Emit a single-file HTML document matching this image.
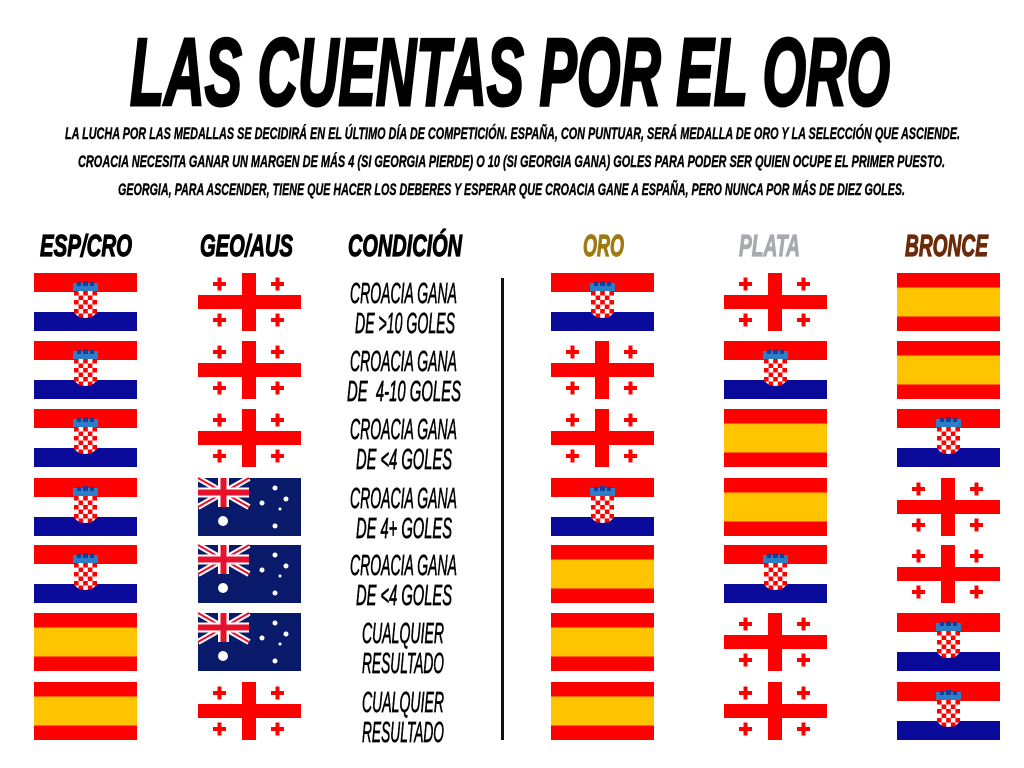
<!DOCTYPE html>
<html><head><meta charset="utf-8"><style>
html,body{margin:0;padding:0;background:#fff;width:1024px;height:768px;overflow:hidden}
text{font-family:"Liberation Sans",sans-serif;font-style:italic}
.rows text{stroke:#000;stroke-width:0.7px}
</style></head><body>
<svg width="1024" height="768" viewBox="0 0 1024 768" xmlns="http://www.w3.org/2000/svg">
<defs>
<g id="cro">
<rect x="0" y="0" width="103" height="58" fill="#fff"/>
<rect x="0" y="0" width="103" height="19" fill="#ff0000"/>
<rect x="0" y="39" width="103" height="19" fill="#0a0a9a"/>
<rect x="39" y="10" width="25" height="8" fill="#2a7fc8"/>
<rect x="43" y="9" width="4" height="4" fill="#1a3c9a"/><rect x="49" y="8" width="5" height="5" fill="#1a3c9a"/><rect x="56" y="9" width="4" height="4" fill="#1a3c9a"/>
<path d="M40 18 H63 V36 Q63 44 51.5 45 Q40 44 40 36 Z" fill="#fff"/>
<g fill="#ff0000">
<rect x="40" y="18" width="4.6" height="4.5"/><rect x="49.2" y="18" width="4.6" height="4.5"/><rect x="58.4" y="18" width="4.6" height="4.5"/>
<rect x="44.6" y="22.5" width="4.6" height="4.5"/><rect x="53.8" y="22.5" width="4.6" height="4.5"/>
<rect x="40" y="27" width="4.6" height="4.5"/><rect x="49.2" y="27" width="4.6" height="4.5"/><rect x="58.4" y="27" width="4.6" height="4.5"/>
<rect x="44.6" y="31.5" width="4.6" height="4.5"/><rect x="53.8" y="31.5" width="4.6" height="4.5"/>
<rect x="40" y="36" width="4.6" height="4.5"/><rect x="49.2" y="36" width="4.6" height="4.5"/><rect x="58.4" y="36" width="4.6" height="4.5"/>
<rect x="44.6" y="40.5" width="4.6" height="4"/><rect x="53.8" y="40.5" width="4.6" height="4"/>
</g>
</g>
<g id="esp">
<rect x="0" y="0" width="103" height="58" fill="#ff0000"/>
<rect x="0" y="14.5" width="103" height="29" fill="#ffc400"/>
</g>
<g id="geo">
<rect x="0" y="0" width="103" height="58" fill="#fff"/>
<rect x="44" y="0" width="14" height="58" fill="#ff0000"/>
<rect x="0" y="22" width="103" height="14" fill="#ff0000"/>
<g fill="#ff0000">
<rect x="15" y="9" width="13" height="4"/><rect x="19.5" y="4.5" width="4" height="13"/>
<rect x="73" y="9" width="13" height="4"/><rect x="77.5" y="4.5" width="4" height="13"/>
<rect x="15" y="45" width="13" height="4"/><rect x="19.5" y="40.5" width="4" height="13"/>
<rect x="73" y="45" width="13" height="4"/><rect x="77.5" y="40.5" width="4" height="13"/>
</g>
</g>
<g id="aus">
<rect x="0" y="0" width="103" height="58" fill="#0a1a6a"/>
<path d="M0 0 L51 29 M51 0 L0 29" stroke="#fff" stroke-width="6"/>
<path d="M0 0 L51 29 M51 0 L0 29" stroke="#e8112d" stroke-width="2"/>
<rect x="20" y="0" width="11" height="29" fill="#fff"/>
<rect x="0" y="9.5" width="51" height="10" fill="#fff"/>
<rect x="22.5" y="0" width="6" height="29" fill="#e8112d"/>
<rect x="0" y="11.5" width="51" height="6" fill="#e8112d"/>
<g fill="#fff">
<circle cx="25" cy="43" r="5"/><circle cx="77" cy="10" r="2.5"/><circle cx="64" cy="25" r="2.5"/><circle cx="88" cy="21" r="2.5"/><circle cx="82" cy="31" r="1.5"/><circle cx="77" cy="48" r="2.5"/>
</g>
</g>
</defs>

<text x="130" y="105" textLength="760" lengthAdjust="spacingAndGlyphs" font-size="96" font-weight="bold" fill="#000" stroke="#000" stroke-width="3">LAS CUENTAS POR EL ORO</text>
<g font-size="17" font-weight="bold" fill="#000" stroke="#000" stroke-width="0.4">
<text x="65" y="139" textLength="895" lengthAdjust="spacingAndGlyphs">LA LUCHA POR LAS MEDALLAS SE DECIDIRÁ EN EL ÚLTIMO DÍA DE COMPETICIÓN. ESPAÑA, CON PUNTUAR, SERÁ MEDALLA DE ORO Y LA SELECCIÓN QUE ASCIENDE.</text>
<text x="78" y="167" textLength="867" lengthAdjust="spacingAndGlyphs">CROACIA NECESITA GANAR UN MARGEN DE MÁS 4 (SI GEORGIA PIERDE) O 10 (SI GEORGIA GANA) GOLES PARA PODER SER QUIEN OCUPE EL PRIMER PUESTO.</text>
<text x="118" y="195" textLength="787" lengthAdjust="spacingAndGlyphs">GEORGIA, PARA ASCENDER, TIENE QUE HACER LOS DEBERES Y ESPERAR QUE CROACIA GANE A ESPAÑA, PERO NUNCA POR MÁS DE DIEZ GOLES.</text>
</g>
<g font-size="31" font-weight="bold" stroke-width="1.2">
<text x="40" y="256" textLength="92" lengthAdjust="spacingAndGlyphs" fill="#000" stroke="#000">ESP/CRO</text>
<text x="200" y="256" textLength="93" lengthAdjust="spacingAndGlyphs" fill="#000" stroke="#000">GEO/AUS</text>
<text x="348" y="256" textLength="114" lengthAdjust="spacingAndGlyphs" fill="#000" stroke="#000">CONDICIÓN</text>
<text x="583" y="256" textLength="41" lengthAdjust="spacingAndGlyphs" fill="#a07a10" stroke="#a07a10">ORO</text>
<text x="739" y="256" textLength="61" lengthAdjust="spacingAndGlyphs" fill="#a8aab0" stroke="#a8aab0">PLATA</text>
<text x="905" y="256" textLength="83" lengthAdjust="spacingAndGlyphs" fill="#6b2a0a" stroke="#6b2a0a">BRONCE</text>
</g>
<rect x="501" y="278" width="3" height="462" fill="#111"/>

<g class="rows" font-size="29" fill="#000">
<use href="#cro" x="34" y="273"/><use href="#geo" x="198" y="273"/>
<text x="350" y="303" textLength="107" lengthAdjust="spacingAndGlyphs">CROACIA GANA</text>
<text x="355" y="333" textLength="100" lengthAdjust="spacingAndGlyphs">DE &gt;10 GOLES</text>
<use href="#cro" x="551" y="273"/><use href="#geo" x="724" y="273"/><use href="#esp" x="897" y="273"/>

<use href="#cro" x="34" y="341"/><use href="#geo" x="198" y="341"/>
<text x="350" y="371" textLength="107" lengthAdjust="spacingAndGlyphs">CROACIA GANA</text>
<text x="347" y="401" textLength="114" lengthAdjust="spacingAndGlyphs">DE&#160; 4-10 GOLES</text>
<use href="#geo" x="551" y="341"/><use href="#cro" x="724" y="341"/><use href="#esp" x="897" y="341"/>

<use href="#cro" x="34" y="409"/><use href="#geo" x="198" y="409"/>
<text x="350" y="439" textLength="107" lengthAdjust="spacingAndGlyphs">CROACIA GANA</text>
<text x="356" y="469" textLength="96" lengthAdjust="spacingAndGlyphs">DE &lt;4 GOLES</text>
<use href="#geo" x="551" y="409"/><use href="#esp" x="724" y="409"/><use href="#cro" x="897" y="409"/>

<use href="#cro" x="34" y="478"/><use href="#aus" x="198" y="478"/>
<text x="350" y="508" textLength="107" lengthAdjust="spacingAndGlyphs">CROACIA GANA</text>
<text x="356" y="538" textLength="96" lengthAdjust="spacingAndGlyphs">DE 4+ GOLES</text>
<use href="#cro" x="551" y="478"/><use href="#esp" x="724" y="478"/><use href="#geo" x="897" y="478"/>

<use href="#cro" x="34" y="545"/><use href="#aus" x="198" y="545"/>
<text x="350" y="575" textLength="107" lengthAdjust="spacingAndGlyphs">CROACIA GANA</text>
<text x="356" y="605" textLength="96" lengthAdjust="spacingAndGlyphs">DE &lt;4 GOLES</text>
<use href="#esp" x="551" y="545"/><use href="#cro" x="724" y="545"/><use href="#geo" x="897" y="545"/>

<use href="#esp" x="34" y="613"/><use href="#aus" x="198" y="613"/>
<text x="362" y="643" textLength="82" lengthAdjust="spacingAndGlyphs">CUALQUIER</text>
<text x="362" y="673" textLength="82" lengthAdjust="spacingAndGlyphs">RESULTADO</text>
<use href="#esp" x="551" y="613"/><use href="#geo" x="724" y="613"/><use href="#cro" x="897" y="613"/>

<use href="#esp" x="34" y="682"/><use href="#geo" x="198" y="682"/>
<text x="362" y="712" textLength="82" lengthAdjust="spacingAndGlyphs">CUALQUIER</text>
<text x="362" y="742" textLength="82" lengthAdjust="spacingAndGlyphs">RESULTADO</text>
<use href="#esp" x="551" y="682"/><use href="#geo" x="724" y="682"/><use href="#cro" x="897" y="682"/>
</g>
</svg>
</body></html>
